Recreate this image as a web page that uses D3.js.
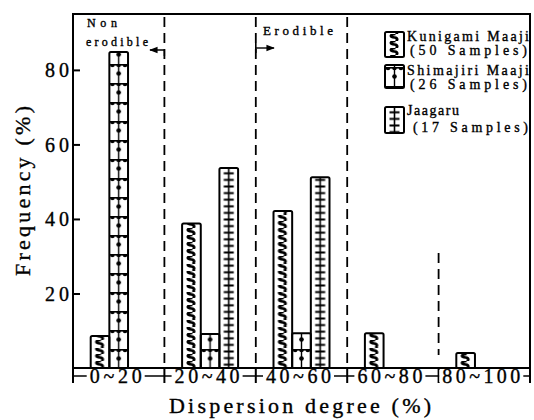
<!DOCTYPE html>
<html>
<head>
<meta charset="utf-8">
<script src="https://cdn.jsdelivr.net/npm/d3@7"></script>
<style>
  body { margin: 0; background: #fff; }
  svg { display: block; }
  text { font-family: "Liberation Serif", "DejaVu Serif", serif; fill: #000; stroke: #000; stroke-width: 0.35px; }
</style>
</head>
<body>
<svg id="chart" width="534" height="420"></svg>
<script>
////////////////////////// DATA //////////////////////////

const bins = ['0~20', '20~40', '40~60', '60~80', '80~100']
const series = ['Kunigami', 'Shimajiri', 'Jaagaru']
const kunigami = [8.6, 38.8, 42.1, 9.3, 4.0]
const shimajiri = [84.8, 9.1, 9.3, 0, 0]
const jaagaru = [0, 53.7, 51.2, 0, 0]
const legendLines = [
  ['Kunigami Maaji', '(50 Samples)'],
  ['Shimajiri Maaji', '(26 Samples)'],
  ['Jaagaru', '(17 Samples)']
]
const yTicks = [20, 40, 60, 80]

////////////////////////// SETUP //////////////////////////

const svg = d3.select('#chart')
const defs = svg.append('defs')

const plotLeft = 73, plotRight = 530, plotTop = 14, plotBottom = 368

const xScale = d3.scaleBand().domain(bins).range([plotLeft, plotRight])
const xSub = d3.scaleBand().domain(series).range([0, 56])
const subOffset = (xScale.bandwidth() - 56) / 2
const yScale = d3.scaleLinear().domain([0, 95]).range([plotBottom, plotTop])

const valuesBySeries = { Kunigami: kunigami, Shimajiri: shimajiri, Jaagaru: jaagaru }

const bars = []
bins.forEach((b, i) => {
  series.forEach(s => {
    const v = valuesBySeries[s][i]
    if (v > 0) bars.push({ bin: b, series: s, value: v })
  })
})

// pattern tile contents for each series
const tileHeight = { Kunigami: 7, Shimajiri: 19, Jaagaru: 6.6 }
const drawTile = (sel, s, w) => {
  const cx = w / 2
  if (s === 'Kunigami') {
    // chain of small bumps
    sel.append('path')
      .attr('d', `M${cx + 1},0 C${cx - 5},0.5 ${cx - 5},3 ${cx},3.5 C${cx + 4},4 ${cx + 3},6.5 ${cx + 1},7`)
      .attr('fill', 'none').attr('stroke', '#000').attr('stroke-width', 2.6)
  } else if (s === 'Shimajiri') {
    sel.append('line').attr('x1', 0).attr('x2', w).attr('y1', 0.8).attr('y2', 0.8)
      .attr('stroke', '#000').attr('stroke-width', 1.6)
    sel.append('line').attr('x1', cx).attr('x2', cx).attr('y1', 0).attr('y2', 19)
      .attr('stroke', '#000').attr('stroke-width', 1.4)
    ;[[3, 1], [cx, 1], [w - 3, 1], [cx, 9.5]].forEach(p => {
      sel.append('circle').attr('cx', p[0]).attr('cy', p[1]).attr('r', 2.3).attr('fill', '#000')
    })
  } else {
    sel.append('line').attr('x1', cx).attr('x2', cx).attr('y1', 0).attr('y2', 6.6)
      .attr('stroke', '#000').attr('stroke-width', 1.6)
    sel.append('line').attr('x1', cx - 5).attr('x2', cx + 5).attr('y1', 3.3).attr('y2', 3.3)
      .attr('stroke', '#000').attr('stroke-width', 2)
  }
}

const makePattern = (id, s, x0, y0, w) => {
  const p = defs.append('pattern')
    .attr('id', id)
    .attr('patternUnits', 'userSpaceOnUse')
    .attr('x', x0).attr('y', y0)
    .attr('width', w).attr('height', tileHeight[s])
  drawTile(p, s, w)
}

// helper for fitted text
const addText = (x, y, str, size, len, anchor) => {
  const t = svg.append('text')
    .attr('x', x).attr('y', y)
    .style('font-size', size + 'px')
    .attr('text-anchor', anchor || 'start')
    .text(str)
  if (len) t.attr('textLength', len).attr('lengthAdjust', 'spacing')
  return t
}

////////////////////////// FRAME & GUIDES //////////////////////////

// dashed separators
const bounds = bins.slice(1).map(b => xScale(b))
const dashTop = [17, 17, 17, 253]
svg.selectAll('.sep')
  .data(bounds)
  .enter()
  .append('line')
  .attr('x1', d => d).attr('x2', d => d)
  .attr('y1', (d, i) => dashTop[i])
  .attr('y2', (d, i) => i === 3 ? 355 : plotBottom)
  .attr('stroke', '#000').attr('stroke-width', 1.8)
  .attr('stroke-dasharray', '10,6')

// bars
const barW = xSub.bandwidth()
bars.forEach((d, i) => {
  const bx = xScale(d.bin) + subOffset + xSub(d.series)
  makePattern('pat' + i, d.series, bx, yScale(0), barW)
  d.px = bx
  d.pid = 'pat' + i
})

svg.selectAll('.bar')
  .data(bars)
  .enter()
  .append('rect')
  .attr('class', 'bar')
  .attr('x', d => d.px)
  .attr('y', d => yScale(d.value))
  .attr('width', barW)
  .attr('height', d => yScale(0) - yScale(d.value))
  .attr('rx', 1.5)
  .attr('fill', d => `url(#${d.pid})`)
  .attr('stroke', '#000')
  .attr('stroke-width', 2)

// frame
svg.append('path')
  .attr('d', `M${plotLeft},${plotBottom + 15} V${plotTop} H${plotRight} V${plotBottom + 15}`)
  .attr('fill', 'none').attr('stroke', '#000').attr('stroke-width', 2)
svg.append('line')
  .attr('x1', plotLeft).attr('x2', plotRight).attr('y1', plotBottom).attr('y2', plotBottom)
  .attr('stroke', '#000').attr('stroke-width', 2)

// y axis
const yAxis = d3.axisLeft(yScale).tickValues(yTicks).tickSizeInner(-7).tickSizeOuter(0).tickPadding(4)
const yg = svg.append('g').attr('transform', `translate(${plotLeft},0)`).call(yAxis)
yg.select('.domain').remove()
yg.selectAll('line').attr('stroke', '#000').attr('stroke-width', 2)
yg.selectAll('text')
  .style('font-family', '"Liberation Serif", serif')
  .style('font-size', '20px')
  .attr('fill', '#000')
  .attr('dy', '0.34em')
  .attr('textLength', 24)
  .attr('lengthAdjust', 'spacing')

// x axis bracket row
const rowY = 376
svg.append('line')
  .attr('x1', plotLeft).attr('x2', plotRight).attr('y1', rowY).attr('y2', rowY)
  .attr('stroke', '#000').attr('stroke-width', 1.6)
svg.selectAll('.xtick')
  .data(bounds)
  .enter()
  .append('line')
  .attr('x1', d => d).attr('x2', d => d)
  .attr('y1', plotBottom).attr('y2', plotBottom + 15)
  .attr('stroke', '#000').attr('stroke-width', 2)

const xLabels = svg.selectAll('.xlab')
  .data(bins)
  .enter()
  .append('g')
  .attr('transform', d => `translate(${xScale(d) + xScale.bandwidth() / 2 - 3},${rowY})`)
xLabels.append('rect')
  .attr('fill', '#fff')
xLabels.append('text')
  .attr('text-anchor', 'middle')
  .attr('y', 7)
  .style('font-size', '20px')
  .attr('textLength', d => d.length * 13)
  .attr('lengthAdjust', 'spacing')
  .text(d => d)
xLabels.each(function () {
  const bb = d3.select(this).select('text').node().getBBox()
  d3.select(this).select('rect')
    .attr('x', bb.x - 3).attr('y', -6).attr('width', bb.width + 6).attr('height', 12)
})

// axis titles
addText(300, 413, 'Dispersion degree (%)', 22, 262, 'middle')

svg.append('text')
  .attr('transform', 'translate(30,191) rotate(-90)')
  .attr('text-anchor', 'middle')
  .style('font-size', '22px')
  .attr('textLength', 170)
  .attr('lengthAdjust', 'spacing')
  .text('Frequency (%)')

////////////////////////// ANNOTATIONS //////////////////////////

addText(87, 27, 'Non', 12, 30)
addText(86, 46, 'erodible', 12, 62)
addText(263, 35, 'Erodible', 13, 70)

defs.append('marker')
  .attr('id', 'arrow')
  .attr('viewBox', '0 0 10 10')
  .attr('refX', 9).attr('refY', 5)
  .attr('markerWidth', 6).attr('markerHeight', 6)
  .attr('orient', 'auto')
  .append('path').attr('d', 'M0,1 L10,5 L0,9 z').attr('fill', '#000')

svg.append('path')
  .attr('d', `M${bounds[0]},56 V50 H150`)
  .attr('fill', 'none').attr('stroke', '#000').attr('stroke-width', 1.4)
  .attr('marker-end', 'url(#arrow)')
svg.append('line')
  .attr('x1', bounds[1]).attr('x2', bounds[1]).attr('y1', 43).attr('y2', 53)
  .attr('stroke', '#000').attr('stroke-width', 1.6)
svg.append('line')
  .attr('x1', bounds[1]).attr('x2', 274).attr('y1', 48).attr('y2', 48)
  .attr('stroke', '#000').attr('stroke-width', 1.4)
  .attr('marker-end', 'url(#arrow)')

////////////////////////// LEGEND //////////////////////////

const legBoxes = [[32, 25], [65, 23], [107, 26]]
const legBase = [[41, 55], [75, 89], [115, 132]]
const legX = [[407, 410], [407, 410], [407, 413]]
const legLen = [[122, 117], [122, 117], [52, 115]]

series.forEach((s, i) => {
  const [by, bh] = legBoxes[i]
  makePattern('leg' + i, s, 385, by + 2, 19)
  svg.append('rect')
    .attr('x', 385).attr('y', by).attr('width', 19).attr('height', bh)
    .attr('rx', 1.5)
    .attr('fill', `url(#leg${i})`)
    .attr('stroke', '#000').attr('stroke-width', 2)
  legendLines[i].forEach((t, j) => {
    addText(legX[i][j], legBase[i][j], t, 14, legLen[i][j])
  })
})
</script>
</body>
</html>
